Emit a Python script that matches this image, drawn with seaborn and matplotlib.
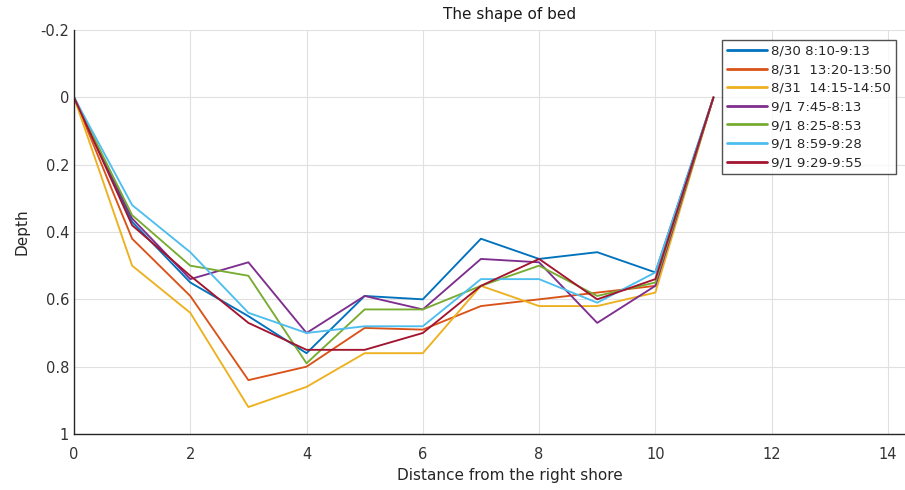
import numpy as np
import pandas as pd
import matplotlib
matplotlib.use("Agg")
import matplotlib.pyplot as plt
import seaborn as sns

distance = [0, 1, 2, 3, 4, 5, 6, 7, 8, 9, 10, 11]
series_names = ["8/30 8:10-9:13", "8/31  13:20-13:50", "8/31  14:15-14:50",
                "9/1 7:45-8:13", "9/1 8:25-8:53", "9/1 8:59-9:28", "9/1 9:29-9:55"]
d_0830 = [0, 0.37, 0.55, 0.65, 0.76, 0.59, 0.60, 0.42, 0.48, 0.46, 0.52, 0]
d_0831a = [0, 0.42, 0.59, 0.84, 0.80, 0.685, 0.69, 0.62, 0.60, 0.58, 0.56, 0]
d_0831b = [0, 0.50, 0.64, 0.92, 0.86, 0.76, 0.76, 0.56, 0.62, 0.62, 0.58, 0]
d_0901a = [0, 0.36, 0.54, 0.49, 0.70, 0.59, 0.63, 0.48, 0.49, 0.67, 0.56, 0]
d_0901b = [0, 0.35, 0.50, 0.53, 0.79, 0.63, 0.63, 0.56, 0.50, 0.59, 0.55, 0]
d_0901c = [0, 0.32, 0.46, 0.64, 0.70, 0.68, 0.68, 0.54, 0.54, 0.61, 0.52, 0]
d_0901d = [0, 0.38, 0.53, 0.67, 0.75, 0.75, 0.70, 0.56, 0.48, 0.60, 0.54, 0]
all_series = [d_0830, d_0831a, d_0831b, d_0901a, d_0901b, d_0901c, d_0901d]
colors = ["#0072BD", "#D95319", "#EDB120", "#7E2F8E", "#77AC30", "#4DBEEE", "#A2142F"]

x_ticks = [0, 2, 4, 6, 8, 10, 12, 14]
y_ticks = [-0.2, 0, 0.2, 0.4, 0.6, 0.8, 1]
y_tick_labels = ["-0.2", "0", "0.2", "0.4", "0.6", "0.8", "1"]

rows = []
for name, vals in zip(series_names, all_series):
    for xv, yv in zip(distance, vals):
        rows.append({"Distance": xv, "Depth": yv, "Series": name})
df = pd.DataFrame(rows)

sns.set_style("white")
plt.rcParams["font.family"] = ["DejaVu Sans"]
plt.rcParams["axes.unicode_minus"] = False

W, H = 905, 490
fig = plt.figure(figsize=(W / 100, H / 100), dpi=100)
left, right, top, bottom = 74, 946, 30, 434
ax = fig.add_axes([left / W, (H - bottom) / H, (right - left) / W, (bottom - top) / H])

sns.lineplot(data=df, x="Distance", y="Depth", hue="Series", hue_order=series_names,
             palette=colors, estimator=None, sort=False, linewidth=1.35, ax=ax)

ax.set_xlim(0, 15)
ax.set_ylim(1, -0.2)
ax.set_xticks(x_ticks)
ax.set_xticklabels([str(t) for t in x_ticks])
ax.set_yticks(y_ticks)
ax.set_yticklabels(y_tick_labels)
ax.grid(True, color="#e0e0e0", linewidth=0.8)
ax.set_axisbelow(True)
for s in ["top", "right"]:
    ax.spines[s].set_visible(False)
for s in ["left", "bottom"]:
    ax.spines[s].set_color("#262626")
    ax.spines[s].set_linewidth(1.0)
ax.tick_params(direction="in", length=5, width=1, colors="#262626", labelsize=10.5,
               labelcolor="#333333")
ax.tick_params(axis="x", pad=9)
ax.set_xlabel("Distance from the right shore", fontsize=11, color="#262626", labelpad=5)
ax.set_ylabel("Depth", fontsize=11, color="#262626", labelpad=8)
ax.set_title("The shape of bed", fontsize=11, color="#1a1a1a", pad=8)

leg = ax.legend(loc="upper left", bbox_to_anchor=((722 - left) / (right - left), 1 - (40 - top) / (bottom - top)),
                frameon=True, fontsize=9.6, handlelength=3.0, handletextpad=0.3,
                borderpad=0.35, labelspacing=0.42, borderaxespad=0, fancybox=False)
leg.get_frame().set_edgecolor("#262626")
leg.get_frame().set_linewidth(1.0)
for line in leg.get_lines():
    line.set_linewidth(2)

fig.savefig("out.png", dpi=100)
